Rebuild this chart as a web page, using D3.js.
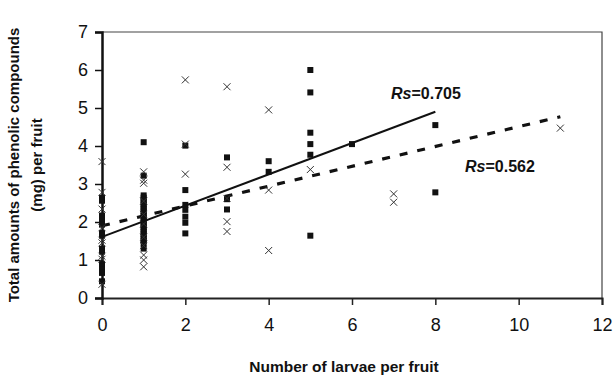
<!DOCTYPE html>
<meta charset="utf-8">
<html>
<head>
    <title>Phenolic compounds vs larvae</title>
    <script src="https://d3js.org/d3.v7.min.js"></script>
    <style>
        body { margin: 0; background: #fff; }
        text { font-family: "Liberation Sans", Arial, sans-serif; }
        .tick text { font-size: 18px; fill: #111; }
    </style>
</head>
<body>
<div id="chart"></div>
<script>
    // values
    var xTicks = [0, 2, 4, 6, 8, 10, 12];
    var yTicks = [0, 1, 2, 3, 4, 5, 6, 7];

    // filled squares
    var squareX = [0, 0, 0, 0, 0, 0, 0, 0, 0, 0, 0, 0, 0, 0, 0,
        1, 1, 1, 1, 1, 1, 1, 1, 1, 1, 1, 1, 1, 1, 1, 1, 1, 1, 1, 1, 1, 1, 1, 1, 1,
        2, 2, 2, 2, 2, 2, 2,
        3, 3, 3,
        4, 4,
        5, 5, 5, 5, 5, 5,
        6,
        8, 8];
    var squareY = [2.64, 2.56, 2.17, 2.1, 2.02, 1.93, 1.71, 1.64, 1.3, 1.22, 0.9, 0.82, 0.74, 0.66, 0.44,
        4.1, 3.22, 2.7, 2.64, 2.58, 2.52, 2.46, 2.4, 2.34, 2.28, 2.22, 2.16, 2.1, 2.04, 1.98, 1.92, 1.86, 1.8, 1.74, 1.68, 1.62, 1.56, 1.5, 1.44, 1.3,
        4.01, 2.84, 2.45, 2.32, 2.14, 1.98, 1.7,
        3.7, 2.6, 2.33,
        3.6, 3.32,
        6.0, 5.41, 4.35, 4.05, 3.77, 1.64,
        4.05,
        4.55, 2.78];

    // crosses
    var crossX = [0, 0, 0, 0, 0, 0, 0, 0, 0,
        1, 1, 1, 1, 1, 1, 1, 1, 1, 1, 1,
        2, 2, 2,
        3, 3, 3, 3, 3,
        4, 4, 4,
        5,
        7, 7,
        11];
    var crossY = [3.59, 2.78, 2.34, 1.85, 1.52, 1.45, 1.1, 1.02, 0.36,
        3.32, 3.1, 3.02, 2.55, 2.2, 1.95, 1.6, 1.38, 1.13, 1.0, 0.82,
        5.74, 4.05, 3.26,
        5.56, 3.44, 2.62, 2.01, 1.75,
        4.95, 2.84, 1.25,
        3.38,
        2.74, 2.52,
        4.47];

    // fitted lines
    var solidFitX = [0, 8];
    var solidFitY = [1.61, 4.9];
    var dashedFitX = [0, 11];
    var dashedFitY = [1.9, 4.77];

    var labels = ["Rs=0.705", "Rs=0.562"];

    var width = 613, height = 375;
    var margin = { top: 32, right: 11, bottom: 77, left: 102 };

    var svg = d3.select("#chart")
        .append("svg")
        .attr("width", width)
        .attr("height", height);

    var x = d3.scaleLinear().domain([0, 12]).range([margin.left, width - margin.right]);
    var y = d3.scaleLinear().domain([0, 7]).range([height - margin.bottom, margin.top]);

    // plot frame (top and right)
    svg.append("path")
        .attr("d", "M" + x(0) + "," + y(7) + "H" + x(12) + "V" + y(0))
        .attr("fill", "none")
        .attr("stroke", "#444")
        .attr("stroke-width", 1.2);

    // axes
    var xAxis = svg.append("g")
        .attr("transform", "translate(0," + y(0) + ")")
        .call(d3.axisBottom(x).tickValues(xTicks).tickFormat(d3.format("d")).tickSize(7).tickPadding(13));
    xAxis.select(".domain").attr("stroke", "#222").attr("stroke-width", 2);
    xAxis.selectAll(".tick line").attr("stroke", "#222").attr("stroke-width", 1.5);

    var yAxis = svg.append("g")
        .attr("transform", "translate(" + x(0) + ",0)")
        .call(d3.axisLeft(y).tickValues(yTicks).tickFormat(d3.format("d")).tickSize(7).tickPadding(7));
    yAxis.select(".domain").attr("stroke", "#111").attr("stroke-width", 2.5);
    yAxis.selectAll(".tick line").attr("stroke", "#111").attr("stroke-width", 1.5);

    // fit lines
    var line = d3.line().x(function (d) { return x(d[0]); }).y(function (d) { return y(d[1]); });

    svg.append("path")
        .datum(d3.zip(dashedFitX, dashedFitY))
        .attr("d", line)
        .attr("fill", "none")
        .attr("stroke", "#111")
        .attr("stroke-width", 3.2)
        .attr("stroke-dasharray", "8,10");

    // squares
    var sq = 6;
    svg.append("g").selectAll("rect")
        .data(d3.zip(squareX, squareY))
        .enter()
        .append("rect")
        .attr("x", function (d) { return x(d[0]) - sq / 2; })
        .attr("y", function (d) { return y(d[1]) - sq / 2; })
        .attr("width", sq)
        .attr("height", sq)
        .attr("fill", "#111");

    // crosses
    var c = 3.5;
    svg.append("g").selectAll("path")
        .data(d3.zip(crossX, crossY))
        .enter()
        .append("path")
        .attr("d", function (d) {
            var cx = x(d[0]), cy = y(d[1]);
            return "M" + (cx - c) + "," + (cy - c) + "L" + (cx + c) + "," + (cy + c) +
                "M" + (cx - c) + "," + (cy + c) + "L" + (cx + c) + "," + (cy - c);
        })
        .attr("stroke", "#333")
        .attr("stroke-width", 1)
        .attr("fill", "none");

    svg.append("path")
        .datum(d3.zip(solidFitX, solidFitY))
        .attr("d", line)
        .attr("fill", "none")
        .attr("stroke", "#111")
        .attr("stroke-width", 2);

    // Rs labels
    function rsLabel(txt, px, py) {
        var t = svg.append("text")
            .attr("x", px)
            .attr("y", py)
            .style("font-size", "16px")
            .style("font-weight", "bold")
            .attr("fill", "#111");
        t.append("tspan").style("font-style", "italic").text(txt.slice(0, 2));
        t.append("tspan").text(txt.slice(2));
    }
    rsLabel(labels[0], 391, 99);
    rsLabel(labels[1], 465, 171.5);

    // axis titles
    svg.append("text")
        .attr("x", (x(0) + x(12)) / 2 - 8)
        .attr("y", 372)
        .attr("text-anchor", "middle")
        .style("font-size", "15.5px")
        .style("font-weight", "bold")
        .attr("fill", "#111")
        .text("Number of larvae per fruit");

    var yTitle = svg.append("text")
        .attr("transform", "translate(0," + 165 + ") rotate(-90)")
        .attr("text-anchor", "middle")
        .style("font-size", "15px")
        .style("font-weight", "bold")
        .attr("fill", "#111");
    yTitle.append("tspan").attr("x", 0).attr("y", 19).text("Total amounts of phenolic compounds");
    yTitle.append("tspan").attr("x", 0).attr("y", 42).text("(mg) per fruit");
</script>
</body>
</html>
